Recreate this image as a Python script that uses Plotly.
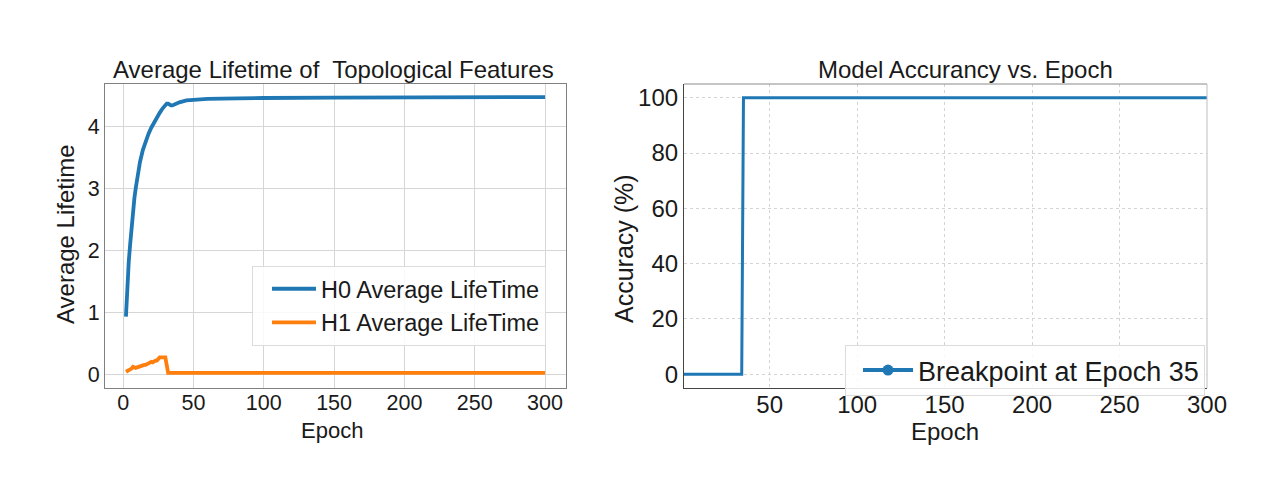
import plotly.graph_objects as go

# ---- data ----
h0_epochs = [2, 3, 4, 5, 6, 7, 8, 9, 10, 11, 12, 14, 16, 18, 20, 22, 24, 26, 28, 30,
             31, 32, 33, 34, 35, 37, 40, 45, 50, 60, 70, 80, 100, 150, 200, 250, 300]
h0_values = [0.93, 1.45, 1.82, 2.10, 2.40, 2.63, 2.84, 3.01, 3.17, 3.31, 3.43, 3.62, 3.76,
             3.88, 3.98, 4.07, 4.15, 4.22, 4.29, 4.35, 4.37, 4.37, 4.35, 4.34, 4.34, 4.36,
             4.39, 4.42, 4.43, 4.445, 4.45, 4.455, 4.46, 4.465, 4.47, 4.47, 4.475]

h1_epochs = [2, 3, 4, 5, 6, 7, 8, 9, 10, 11, 12, 13, 14, 15, 16, 17, 18, 19, 20, 21, 22,
             23, 24, 25, 26, 30, 32, 300]
h1_values = [0.04, 0.05, 0.06, 0.08, 0.09, 0.12, 0.10, 0.10, 0.11, 0.12, 0.12, 0.14, 0.15,
             0.15, 0.15, 0.16, 0.17, 0.19, 0.20, 0.19, 0.21, 0.22, 0.22, 0.25, 0.27, 0.27,
             0.02, 0.02]

acc_epochs = [1, 34, 35, 300]
acc_values = [0, 0, 100, 100]

left_xticks = [0, 50, 100, 150, 200, 250, 300]
left_yticks = [0, 1, 2, 3, 4]
right_xticks = [50, 100, 150, 200, 250, 300]
right_yticks = [0, 20, 40, 60, 80, 100]

left_title = "Average Lifetime of  Topological Features"
right_title = "Model Accurancy vs. Epoch"
h0_name = "H0 Average LifeTime"
h1_name = "H1 Average LifeTime"
acc_name = "Breakpoint at Epoch 35"

BLUE = "#1f77b4"
ORANGE = "#ff7f0e"
FONT = "Liberation Sans, Arial, sans-serif"
TXT = "#1a1a1a"

W, H = 1280, 492


def px_x(p):
    return p / W


def px_y(p):
    return 1 - p / H


fig = go.Figure()

fig.add_trace(go.Scatter(x=h0_epochs, y=h0_values, mode="lines", name=h0_name,
                         line=dict(color=BLUE, width=3.8), xaxis="x", yaxis="y",
                         legend="legend"))
fig.add_trace(go.Scatter(x=h1_epochs, y=h1_values, mode="lines", name=h1_name,
                         line=dict(color=ORANGE, width=3.8), xaxis="x", yaxis="y",
                         legend="legend"))
fig.add_trace(go.Scatter(x=acc_epochs, y=acc_values, mode="lines", name=acc_name,
                         line=dict(color=BLUE, width=3), xaxis="x2", yaxis="y2",
                         showlegend=False))
# legend entry (line + circle marker) for the right panel
fig.add_trace(go.Scatter(x=[None], y=[None], mode="lines+markers", name=acc_name,
                         line=dict(color=BLUE, width=4), marker=dict(size=11, color=BLUE),
                         xaxis="x2", yaxis="y2", legend="legend2"))

L_DOM = [px_x(105), px_x(566)]
R_DOM = [px_x(684), px_x(1207)]
Y_DOM = [px_y(388), px_y(84)]

common = dict(automargin=False, zeroline=False, showgrid=True, gridwidth=1,
              ticks="", showline=True)

fig.update_layout(
    template="none",
    width=W, height=H, autosize=False,
    margin=dict(l=0, r=0, t=0, b=0, pad=0),
    paper_bgcolor="white", plot_bgcolor="white",
    font=dict(family=FONT, color=TXT),
    xaxis=dict(domain=L_DOM, anchor="y", range=[-12.9, 314.9], tickvals=left_xticks,
               gridcolor="#d6d6d6", linecolor="#808080", linewidth=1, mirror=True,
               ticklabelstandoff=-5,
               tickfont=dict(size=21.5, family=FONT, color=TXT), **common),
    yaxis=dict(domain=Y_DOM, anchor="x", range=[-0.223, 4.686], tickvals=left_yticks,
               gridcolor="#d6d6d6", linecolor="#808080", linewidth=1, mirror=True,
               tickfont=dict(size=21.5, family=FONT, color=TXT), **common),
    xaxis2=dict(domain=R_DOM, anchor="y2", range=[1, 300], tickvals=right_xticks,
                gridcolor="#d4d4d4", griddash="dot", linecolor="#444444", linewidth=1.2,
                ticklabelstandoff=-5,
                tickfont=dict(size=24, family=FONT, color=TXT), **common),
    yaxis2=dict(domain=Y_DOM, anchor="x2", range=[-5, 105], tickvals=right_yticks,
                gridcolor="#d4d4d4", griddash="dot", linecolor="#444444", linewidth=1.2,
                tickfont=dict(size=24, family=FONT, color=TXT), **common),
    legend=dict(x=px_x(546), y=px_y(266), xanchor="right", yanchor="top",
                bgcolor="rgba(255,255,255,0.85)", bordercolor="#dcdcdc", borderwidth=1,
                font=dict(size=23.5, family=FONT, color=TXT), tracegroupgap=0,
                itemwidth=44, indentation=14),
    legend2=dict(x=px_x(1205), y=px_y(345), xanchor="right", yanchor="top",
                 bgcolor="rgba(255,255,255,0.85)", bordercolor="#dcdcdc", borderwidth=1,
                 font=dict(size=27, family=FONT, color=TXT), itemwidth=50,
                 indentation=12),
    showlegend=True,
)

# top / right frame of the right panel (lighter)
fig.add_shape(type="line", xref="x2 domain", yref="y2 domain", x0=0, x1=1, y0=1, y1=1,
              line=dict(color="#8a8a8a", width=1))
fig.add_shape(type="line", xref="x2 domain", yref="y2 domain", x0=1, x1=1, y0=0, y1=1,
              line=dict(color="#bdbdbd", width=1))

annotations = [
    dict(text=left_title, x=px_x(333), y=px_y(85), xanchor="center", yanchor="bottom",
         font=dict(size=24, family=FONT, color=TXT)),
    dict(text=right_title, x=px_x(965), y=px_y(85), xanchor="center", yanchor="bottom",
         font=dict(size=24, family=FONT, color=TXT)),
    dict(text="Epoch", x=px_x(332), y=px_y(430), xanchor="center", yanchor="middle",
         font=dict(size=22, family=FONT, color=TXT)),
    dict(text="Epoch", x=px_x(945), y=px_y(431), xanchor="center", yanchor="middle",
         font=dict(size=24, family=FONT, color=TXT)),
    dict(text="Average Lifetime", x=px_x(65), y=px_y(234), xanchor="center",
         yanchor="middle", textangle=-90, font=dict(size=24, family=FONT, color=TXT)),
    dict(text="Accuracy (%)", x=px_x(624), y=px_y(249), xanchor="center",
         yanchor="middle", textangle=-90, font=dict(size=25, family=FONT, color=TXT)),
]
for a in annotations:
    a.update(xref="paper", yref="paper", showarrow=False)
fig.update_layout(annotations=annotations)

fig.write_html(
    "out.html",
    config={"displayModeBar": False},
    post_script="document.body.style.margin='0';document.body.style.overflow='hidden';",
)
